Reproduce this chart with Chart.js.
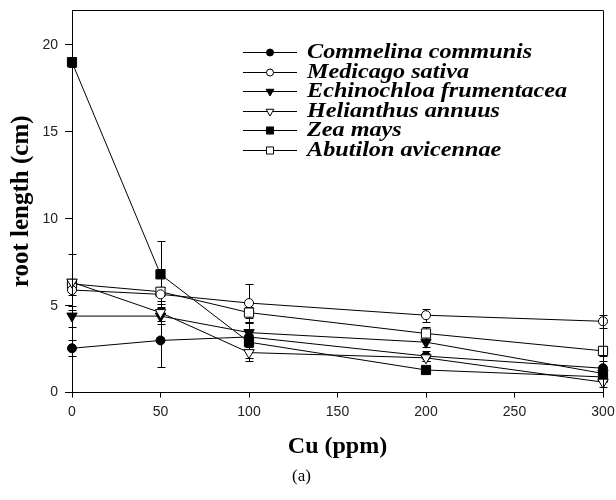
<!DOCTYPE html>
<html><head><meta charset="utf-8">
<script src="https://cdn.jsdelivr.net/npm/chart.js@4.4.1/dist/chart.umd.min.js"></script>
<style>html,body{margin:0;padding:0;background:#fff}</style>
</head><body>
<canvas id="c" width="616" height="500"></canvas>
<script>
// ---- data ----
const cuLevels = [0, 50, 100, 200, 300];
const speciesNames = ['Commelina communis', 'Medicago sativa', 'Echinochloa frumentacea', 'Helianthus annuus', 'Zea mays', 'Abutilon avicennae'];
const commelina   = [2.55, 3.0, 3.2, 2.1, 1.4];
const medicago    = [5.9, 5.65, 5.15, 4.45, 4.1];
const echinochloa = [4.4, 4.4, 3.45, 2.9, 1.1];
const helianthus  = [6.35, 4.6, 2.3, 2.0, 0.6];
const zeaMays     = [19.0, 6.8, 2.9, 1.3, 0.9];
const abutilon    = [6.25, 5.8, 4.6, 3.4, 2.4];
const commelinaErr   = [0.45, 1.5, 0.3, 0.3, 0.4];
const medicagoErr    = [0.3, 0.4, 1.1, 0.38, 0.38];
const echinochloaErr = [0.6, 0.45, 0.6, 0.3, 0.3];
const helianthusErr  = [1.6, 0.5, 0.3, 0.2, 0.3];
const zeaMaysErr     = [0.3, 1.9, 1.1, 0.2, 0.3];
const abutilonErr    = [0.3, 1.3, 0.3, 0.4, 0.3];
const xTickStep = 50;
const yTickStep = 5;

// ---- styles ----
const markerStyles = [
  {pointStyle: 'circle',   fill: '#000', radius: 4.5, rotation: 0,   legendRadius: 3.5, order: 0},
  {pointStyle: 'circle',   fill: '#fff', radius: 4.5, rotation: 0,   legendRadius: 3.5, order: 0},
  {pointStyle: 'triangle', fill: '#000', radius: 6,   rotation: 180, legendRadius: 4.5, order: 0},
  {pointStyle: 'triangle', fill: '#fff', radius: 6,   rotation: 180, legendRadius: 4.5, order: -1},
  {pointStyle: 'rect',     fill: '#000', radius: 6.5, rotation: 0,   legendRadius: 5,   order: 0},
  {pointStyle: 'rect',     fill: '#fff', radius: 6.5, rotation: 0,   legendRadius: 5,   order: 0}
];
const seriesValues = [commelina, medicago, echinochloa, helianthus, zeaMays, abutilon];
const seriesErrors = [commelinaErr, medicagoErr, echinochloaErr, helianthusErr, zeaMaysErr, abutilonErr];

const datasets = speciesNames.map((name, i) => ({
  label: name,
  data: cuLevels.map((x, j) => ({x: x, y: seriesValues[i][j]})),
  errors: seriesErrors[i],
  order: markerStyles[i].order,
  borderColor: '#000',
  borderWidth: 1,
  backgroundColor: markerStyles[i].fill,
  pointStyle: markerStyles[i].pointStyle,
  pointRadius: markerStyles[i].radius,
  pointRotation: markerStyles[i].rotation,
  pointBackgroundColor: markerStyles[i].fill,
  pointBorderColor: '#000',
  pointBorderWidth: 1,
  tension: 0,
  clip: false
}));

const errorBarPlugin = {
  id: 'errorBars',
  beforeDatasetsDraw(chart) {
    const ctx = chart.ctx, xs = chart.scales.x, ys = chart.scales.y;
    ctx.save();
    ctx.strokeStyle = '#000';
    ctx.lineWidth = 1;
    chart.data.datasets.forEach(ds => {
      ds.data.forEach((p, j) => {
        const e = ds.errors[j];
        const px = Math.round(xs.getPixelForValue(p.x)) + 0.5;
        const yt = Math.round(ys.getPixelForValue(p.y + e)) + 0.5;
        const yb = Math.round(ys.getPixelForValue(Math.max(0, p.y - e))) + 0.5;
        ctx.beginPath();
        ctx.moveTo(px, yt); ctx.lineTo(px, yb);
        ctx.moveTo(px - 4, yt); ctx.lineTo(px + 4, yt);
        ctx.moveTo(px - 4, yb); ctx.lineTo(px + 4, yb);
        ctx.stroke();
      });
    });
    ctx.restore();
  }
};

const framePlugin = {
  id: 'frame',
  afterDatasetsDraw(chart) {
    const a = chart.chartArea, ctx = chart.ctx;
    ctx.save();
    ctx.strokeStyle = '#000';
    ctx.lineWidth = 1;
    ctx.beginPath();
    const l = Math.round(a.left) + 0.5, r = Math.round(a.right) + 0.5;
    const t = Math.round(a.top) + 0.5, b = Math.round(a.bottom) + 0.5;
    ctx.moveTo(l, b); ctx.lineTo(l, t); ctx.lineTo(r, t); ctx.lineTo(r, b);
    ctx.stroke();
    ctx.restore();
  }
};

const legendPlugin = {
  id: 'seriesLegend',
  afterDraw(chart) {
    const ctx = chart.ctx;
    const x0 = 243, x1 = 297, textX = 307, y0 = 52, dy = 19.5, stretch = 1.21;
    ctx.save();
    chart.data.datasets.forEach((ds, i) => {
      const y = Math.round(y0 + i * dy) + 0.5;
      ctx.strokeStyle = '#000';
      ctx.lineWidth = 1;
      ctx.beginPath();
      ctx.moveTo(x0, y); ctx.lineTo(x1, y);
      ctx.stroke();
      ctx.fillStyle = markerStyles[i].fill;
      Chart.helpers.drawPoint(ctx, {
        pointStyle: markerStyles[i].pointStyle,
        rotation: markerStyles[i].rotation,
        radius: markerStyles[i].legendRadius,
        borderWidth: 1
      }, (x0 + x1) / 2, y);
      ctx.save();
      ctx.translate(textX, y);
      ctx.scale(stretch, 1);
      ctx.fillStyle = '#000';
      ctx.font = 'italic bold 20px "Liberation Serif", "Times New Roman", serif';
      ctx.textBaseline = 'middle';
      ctx.textAlign = 'left';
      ctx.fillText(ds.label, 0, 0);
      ctx.restore();
    });
    ctx.restore();
  }
};

new Chart(document.getElementById('c'), {
  type: 'line',
  data: {datasets: datasets},
  plugins: [errorBarPlugin, framePlugin, legendPlugin],
  options: {
    responsive: false,
    animation: false,
    layout: {padding: {left: 0, right: 13, top: 10, bottom: 0}},
    plugins: {
      legend: {display: false},
      tooltip: {enabled: false},
      title: {
        display: true, position: 'bottom', text: '(a)', color: '#000',
        font: {family: '"Liberation Serif", serif', size: 17, weight: 'normal'},
        padding: {top: 0, bottom: 13}
      }
    },
    scales: {
      x: {
        type: 'linear', min: 0, max: 300,
        ticks: {stepSize: xTickStep, color: '#222', padding: 6,
                font: {family: '"Liberation Sans", Arial, sans-serif', size: 14}},
        grid: {drawOnChartArea: false, drawTicks: true, tickLength: 5, color: '#000'},
        border: {color: '#000', width: 1},
        title: {display: true, text: 'Cu (ppm)', color: '#000',
                font: {family: '"Liberation Serif", serif', size: 24, weight: 'bold'},
                padding: {top: 0, bottom: 5}},
        afterFit(s) { s.height = 74; s.paddingLeft = 0; s.paddingRight = 0; }
      },
      y: {
        min: 0, max: 22,
        ticks: {stepSize: yTickStep, includeBounds: false, color: '#222', padding: 7,
                font: {family: '"Liberation Sans", Arial, sans-serif', size: 14}},
        grid: {drawOnChartArea: false, drawTicks: true, tickLength: 7, color: '#000'},
        border: {color: '#000', width: 1},
        title: {display: true, text: 'root length (cm)', color: '#000',
                font: {family: '"Liberation Serif", serif', size: 25, weight: 'bold'},
                padding: {top: 7, bottom: 0}},
        afterFit(s) { s.width = 72; s.paddingTop = 0; s.paddingBottom = 0; }
      }
    }
  }
});
</script>
</body></html>
